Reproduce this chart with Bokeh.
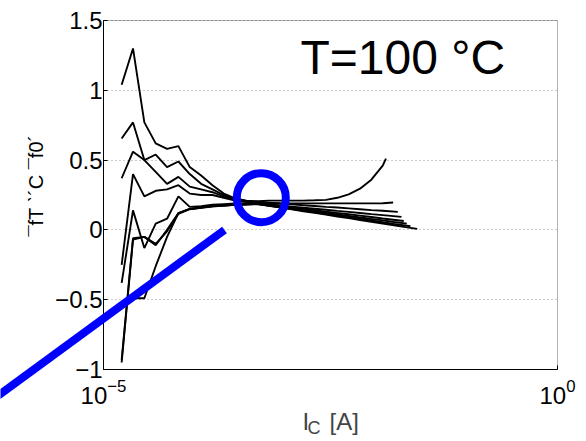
from math import pi
from bokeh.plotting import figure
from bokeh.models import (FixedTicker, Label, Arrow, Range1d, LogAxis, LinearAxis,
                          BoxAnnotation, Grid)
from bokeh.embed import file_html
from bokeh.resources import INLINE

# ---------------- data ----------------
IC_GRID = [1.585e-5, 2.113e-5, 2.818e-5, 3.758e-5, 5.012e-5, 6.683e-5, 8.913e-5,
           1.189e-4, 1.585e-4, 2.113e-4, 2.818e-4, 3.758e-4, 5.012e-4, 6.683e-4,
           8.913e-4, 1.189e-3, 1.585e-3, 2.113e-3, 2.818e-3, 3.758e-3, 5.012e-3,
           6.683e-3, 8.913e-3, 1.189e-2, 1.585e-2, 2.113e-2]

IC_1 = IC_GRID[:24] + [1.291e-2]
IC_2 = IC_GRID[:24] + [1.549e-2]
IC_3 = IC_GRID[:24] + [1.742e-2]
IC_4 = IC_GRID[:24] + [1.914e-2]
IC_5 = IC_GRID[:24] + [2.028e-2]
IC_6 = IC_GRID[:25] + [2.188e-2]
IC_7 = IC_GRID[:25] + [2.399e-2]
IC_8 = IC_GRID[:26] + [2.851e-2]

Y_1 = [1.04, 1.30, 0.77, 0.62, 0.58, 0.60, 0.45, 0.39, 0.32, 0.26, 0.225, 0.21,
       0.205, 0.21, 0.21, 0.21, 0.21, 0.212, 0.215, 0.23, 0.255, 0.295, 0.36, 0.46, 0.51]
Y_2 = [0.655, 0.77, 0.50, 0.415, 0.33, 0.38, 0.31, 0.29, 0.27, 0.24, 0.22, 0.205,
       0.195, 0.193, 0.191, 0.19, 0.19, 0.19, 0.19, 0.19, 0.19, 0.19, 0.19, 0.191, 0.196]
Y_3 = [0.37, 0.56, 0.50, 0.54, 0.45, 0.49, 0.40, 0.33, 0.29, 0.25, 0.22, 0.205,
       0.200, 0.194, 0.188, 0.183, 0.177, 0.171, 0.165, 0.160, 0.154, 0.148, 0.142, 0.137, 0.129]
Y_4 = [-0.25, 0.40, 0.24, 0.28, 0.29, 0.32, 0.26, 0.25, 0.25, 0.23, 0.21, 0.20,
       0.190, 0.182, 0.175, 0.167, 0.159, 0.152, 0.144, 0.136, 0.129, 0.121, 0.113, 0.106, 0.093]
Y_5 = [-0.38, 0.14, -0.13, 0.045, 0.08, 0.24, 0.165, 0.17, 0.18, 0.185, 0.19, 0.19,
       0.190, 0.180, 0.170, 0.161, 0.151, 0.141, 0.131, 0.121, 0.112, 0.102, 0.092, 0.082, 0.064]
Y_6 = [-0.95, -0.07, -0.05, -0.11, 0.0, 0.12, 0.15, 0.16, 0.17, 0.175, 0.18, 0.183,
       0.185, 0.174, 0.164, 0.153, 0.142, 0.132, 0.121, 0.110, 0.100, 0.089, 0.078, 0.068, 0.057, 0.045]
Y_7 = [-0.55, -0.49, -0.49, -0.26, -0.05, 0.12, 0.15, 0.16, 0.17, 0.175, 0.18, 0.183,
       0.185, 0.173, 0.161, 0.150, 0.138, 0.126, 0.114, 0.102, 0.090, 0.079, 0.067, 0.055, 0.043, 0.026]
Y_8 = [-0.93, -0.06, -0.05, -0.10, -0.01, 0.115, 0.148, 0.158, 0.168, 0.174, 0.179, 0.182,
       0.185, 0.172, 0.160, 0.147, 0.134, 0.122, 0.109, 0.096, 0.084, 0.071, 0.058, 0.046, 0.033, 0.020, 0.007]

CURVES = [(IC_1, Y_1), (IC_2, Y_2), (IC_3, Y_3), (IC_4, Y_4),
          (IC_5, Y_5), (IC_6, Y_6), (IC_7, Y_7), (IC_8, Y_8)]

X_LIMITS = (1e-5, 1.0)
Y_LIMITS = (-1.0, 1.5)
X_TICKS = [1e-5, 1.0]
Y_TICKS = [-1, -0.5, 0, 0.5, 1, 1.5]
Y_TICK_LABELS = {-1: "\u22121", -0.5: "\u22120.5", 0: "0", 0.5: "0.5", 1: "1", 1.5: "1.5"}

TITLE_TEXT = "T=100 \u00b0C"
YLABEL_TEXT = "\u00affT \u02cb\u00b4C \u00aff0\u00b4"

# annotation marks (blue circle and blue line)
CIRCLE_X, CIRCLE_Y = [5.47e-4], [0.231]
LINE_START = (4.42e-7, -1.28)
LINE_END = (2.15e-4, 0.0)

# visible canvas extent in data units (canvas = whole window, axes box inside)
VIEW_X = (7.34e-7, 2.086)
VIEW_Y = (-1.5158, 1.6433)

FONT = "Liberation Sans"

# ---------------- figure ----------------
p = figure(width=586, height=441, x_axis_type="log",
           x_axis_location=None, y_axis_location=None,
           x_range=Range1d(*VIEW_X), y_range=Range1d(*VIEW_Y),
           output_backend="svg", toolbar_location=None, min_border=0)
p.background_fill_color = "white"
p.border_fill_color = "white"
p.outline_line_color = None
for g in p.grid:
    g.visible = False

yt = FixedTicker(ticks=Y_TICKS)
xt = FixedTicker(ticks=X_TICKS)

# dotted horizontal grid limited to the axes box
try:
    grid = Grid(dimension=1, ticker=yt, bounds=Y_LIMITS, cross_bounds=X_LIMITS,
                grid_line_color="#999999", grid_line_dash="1 3", grid_line_width=1)
    p.add_layout(grid)
except Exception:
    p.segment(x0=[X_LIMITS[0]] * len(Y_TICKS), x1=[X_LIMITS[1]] * len(Y_TICKS),
              y0=Y_TICKS, y1=Y_TICKS, line_color="#999999", line_dash="1 3", line_width=1)

for xs, ys in CURVES:
    p.line(xs, ys, line_color="black", line_width=1.9)

# axes box
p.add_layout(BoxAnnotation(left=X_LIMITS[0], right=X_LIMITS[1], bottom=Y_LIMITS[0],
                           top=Y_LIMITS[1], fill_alpha=0, fill_color=None,
                           line_color="black", line_width=1))

p.scatter(CIRCLE_X, CIRCLE_Y, size=49, marker="circle", fill_color=None,
          line_color="#0000ff", line_width=8)

p.add_layout(Arrow(end=None, x_start=LINE_START[0], y_start=LINE_START[1],
                   x_end=LINE_END[0], y_end=LINE_END[1],
                   line_color="#0000ff", line_width=8, line_cap="butt"))

# axes at fixed locations
xaxis = LogAxis(fixed_location=Y_LIMITS[0], bounds=X_LIMITS, ticker=xt)
yaxis = LinearAxis(fixed_location=X_LIMITS[0], bounds=Y_LIMITS, ticker=yt,
                   major_label_overrides=Y_TICK_LABELS)
for ax in (xaxis, yaxis):
    ax.axis_line_color = "black"
    ax.major_tick_in = 4
    ax.major_tick_out = 0
    ax.minor_tick_line_color = None
    ax.major_label_text_font = FONT
    ax.major_label_text_font_size = "24px"
    ax.major_label_text_color = "black"
yaxis.major_label_standoff = 1
xaxis.major_label_standoff = 10
p.add_layout(xaxis, "below")
p.add_layout(yaxis, "left")

# texts
p.add_layout(Label(x=1.477e-3, y=1.235, text=TITLE_TEXT, text_font=FONT,
                   text_font_size="48px", text_align="left", text_baseline="alphabetic",
                   text_color="black"))
p.add_layout(Label(x=1.828e-6, y=0.318, text=YLABEL_TEXT, text_font=FONT,
                   text_font_size="20px", angle=pi / 2, text_align="center",
                   text_baseline="middle", text_color="black"))
XL = 1.554e-3
p.add_layout(Label(x=XL, y=-1.37, text="I", text_font=FONT,
                   text_font_size="24px", text_align="left", text_baseline="alphabetic"))
p.add_layout(Label(x=XL, y=-1.37, x_offset=5, y_offset=-7, text="C", text_font=FONT,
                   text_font_size="18px", text_align="left", text_baseline="alphabetic"))
p.add_layout(Label(x=XL, y=-1.37, x_offset=27, text="[A]", text_font=FONT,
                   text_font_size="24px", text_align="left", text_baseline="alphabetic"))

open("out.html", "w").write(file_html(p, INLINE))
